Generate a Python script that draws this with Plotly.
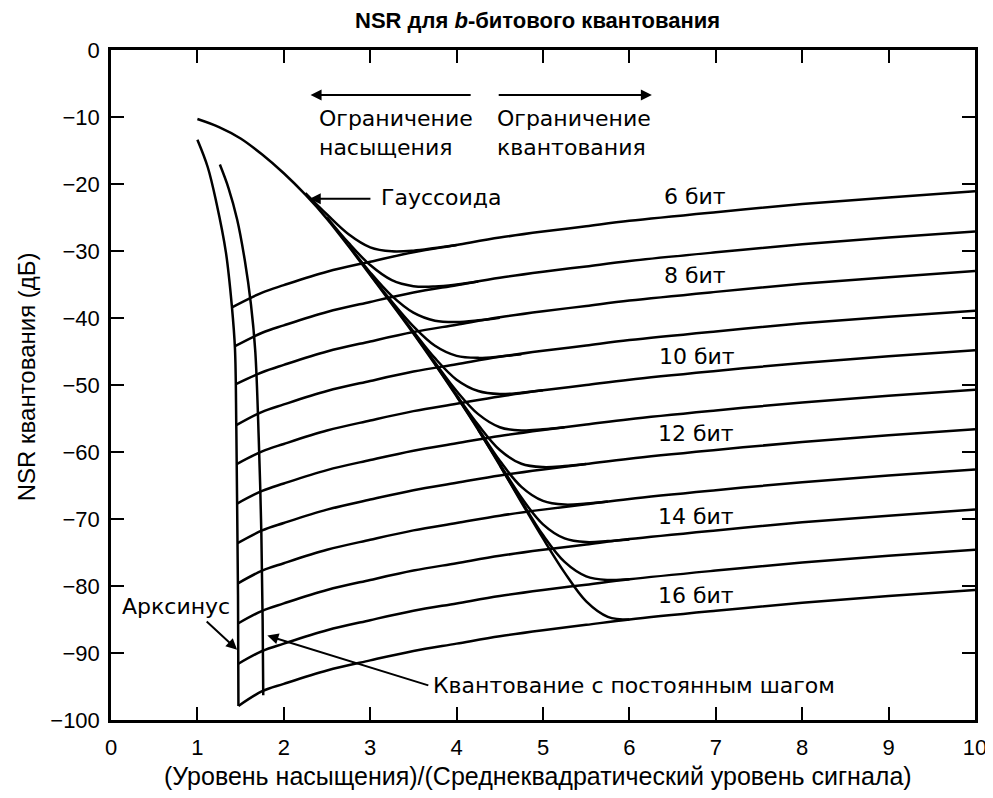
import plotly.graph_objects as go

# ---------------- data ----------------
bits = [6, 7, 8, 9, 10, 11, 12, 13, 14, 15, 16]

# quantization-limited lines (start on the arcsine curve, end at x = 10)
line_x_start = [1.40, 1.435, 1.44, 1.45, 1.455, 1.46, 1.465, 1.47, 1.47, 1.475, 1.475]
line_x_rest = [1.75, 2, 2.5, 3, 3.5, 4, 4.5, 5, 5.5, 6, 7, 8, 9, 10]
q6 = [-38.4, -36.2, -35.1, -33.1, -31.6, -30.2, -29.1, -28.0, -27.1, -26.3, -25.5, -24.2, -23.0, -22.0, -21.1]
q7 = [-44.2, -42.2, -41.1, -39.1, -37.6, -36.2, -35.1, -34.0, -33.1, -32.3, -31.5, -30.2, -29.0, -28.0, -27.1]
q8 = [-49.9, -48.1, -47.0, -45.0, -43.5, -42.1, -41.0, -39.9, -39.0, -38.2, -37.4, -36.1, -34.9, -33.9, -33.0]
q9 = [-56.0, -54.0, -52.9, -50.9, -49.4, -48.0, -46.9, -45.8, -44.9, -44.1, -43.3, -42.0, -40.8, -39.8, -38.9]
q10 = [-61.8, -59.9, -58.8, -56.8, -55.3, -53.9, -52.8, -51.7, -50.8, -50.0, -49.2, -47.9, -46.7, -45.7, -44.8]
q11 = [-67.7, -65.8, -64.7, -62.7, -61.2, -59.8, -58.7, -57.6, -56.7, -55.9, -55.1, -53.8, -52.6, -51.6, -50.7]
q12 = [-73.6, -71.7, -70.6, -68.6, -67.1, -65.7, -64.6, -63.5, -62.6, -61.8, -61.0, -59.7, -58.5, -57.5, -56.6]
q13 = [-79.6, -77.7, -76.6, -74.6, -73.1, -71.7, -70.6, -69.5, -68.6, -67.8, -67.0, -65.7, -64.5, -63.5, -62.6]
q14 = [-85.6, -83.7, -82.6, -80.6, -79.1, -77.7, -76.6, -75.5, -74.6, -73.8, -73.0, -71.7, -70.5, -69.5, -68.6]
q15 = [-91.6, -89.7, -88.6, -86.6, -85.1, -83.7, -82.6, -81.5, -80.6, -79.8, -79.0, -77.7, -76.5, -75.5, -74.6]
q16 = [-97.9, -95.7, -94.6, -92.6, -91.1, -89.7, -88.6, -87.5, -86.6, -85.8, -85.0, -83.7, -82.5, -81.5, -80.6]
quant_lines = [q6, q7, q8, q9, q10, q11, q12, q13, q14, q15, q16]

# Gaussian curve envelope (the 16-bit Gaussian curve)
gauss_x = [1.0, 1.25, 1.5, 1.75, 2.0, 2.25, 2.5, 2.75, 3.0, 3.25, 3.5, 3.75,
           4.0, 4.25, 4.5, 4.75, 5.0, 5.25, 5.5, 5.75, 6.0]
gauss_y = [-10.3, -11.5, -13.2, -15.6, -18.4, -21.6, -25.2, -29.3, -33.6, -37.9,
           -42.3, -46.9, -51.7, -56.7, -62.0, -67.5, -72.9, -78.0, -82.3, -84.6, -85.0]

# Gaussian knees for 6..15 bits (departure from the envelope into each line)
knee6_x = [2.25, 2.5, 2.75, 3.0, 3.25, 3.5, 3.75, 4.0]
knee6_y = [-21.35, -24.55, -27.5, -29.45, -30.05, -29.95, -29.55, -29.1]
knee7_x = [2.5, 2.75, 3.0, 3.25, 3.5, 3.75, 4.0, 4.25]
knee7_y = [-25.0, -28.8, -32.1, -34.35, -35.25, -35.3, -35.0, -34.55]
knee8_x = [2.75, 3.0, 3.25, 3.5, 3.75, 4.0, 4.25, 4.5]
knee8_y = [-29.15, -33.2, -36.7, -39.2, -40.4, -40.6, -40.35, -39.95]
knee9_x = [3.0, 3.25, 3.5, 3.75, 4.0, 4.25, 4.5, 4.75]
knee9_y = [-33.5, -37.55, -41.25, -44.15, -45.65, -45.95, -45.75, -45.4]
knee10_x = [3.25, 3.5, 3.75, 4.0, 4.25, 4.5, 4.75, 5.0]
knee10_y = [-37.8, -42.0, -46.0, -49.2, -50.9, -51.35, -51.15, -50.8]
knee11_x = [3.5, 3.75, 4.0, 4.25, 4.5, 4.75, 5.0, 5.25]
knee11_y = [-42.2, -46.65, -50.9, -54.35, -56.3, -56.8, -56.6, -56.3]
knee12_x = [3.75, 4.0, 4.25, 4.5, 4.75, 5.0, 5.25, 5.5]
knee12_y = [-46.85, -51.5, -55.95, -59.7, -61.75, -62.25, -62.1, -61.8]
knee13_x = [4.0, 4.25, 4.5, 4.75, 5.0, 5.25, 5.5, 5.75]
knee13_y = [-51.65, -56.5, -61.3, -65.2, -67.3, -67.85, -67.7, -67.4]
knee14_x = [4.25, 4.5, 4.75, 5.0, 5.25, 5.5, 5.75, 6.0]
knee14_y = [-56.65, -61.8, -66.8, -70.8, -72.9, -73.45, -73.3, -73.05]
knee15_x = [4.5, 4.75, 5.0, 5.25, 5.5, 5.75, 6.0]
knee15_y = [-61.95, -67.3, -72.4, -76.4, -78.55, -79.1, -79.0]
knees_x = [knee6_x, knee7_x, knee8_x, knee9_x, knee10_x, knee11_x, knee12_x, knee13_x, knee14_x, knee15_x]
knees_y = [knee6_y, knee7_y, knee8_y, knee9_y, knee10_y, knee11_y, knee12_y, knee13_y, knee14_y, knee15_y]

# arcsine and uniform (constant-step) saturation curves
arcsin_x = [1.0, 1.12, 1.22, 1.33, 1.40, 1.435, 1.45, 1.46, 1.47, 1.475]
arcsin_y = [-13.4, -17.5, -22.8, -30.2, -38.4, -44.6, -56.0, -68.0, -81.4, -97.9]
uniform_x = [1.26, 1.36, 1.46, 1.55, 1.62, 1.67, 1.71, 1.74, 1.755, 1.762]
uniform_y = [-17.1, -20.6, -25.3, -31.5, -38.0, -45.0, -58.0, -72.0, -85.0, -96.3]

label_bits = ["6 бит", "8 бит", "10 бит", "12 бит", "14 бит", "16 бит"]
label_bits_x = [6.76, 6.76, 6.78, 6.77, 6.77, 6.77]
label_bits_y = [-21.9, -33.6, -45.7, -57.3, -69.6, -81.4]

x_ticks = list(range(0, 11))
y_ticks = list(range(-100, 1, 10))

# ---------------- figure ----------------
FONT = "Liberation Sans, Arial, sans-serif"
ANN = "DejaVu Sans, Liberation Sans, sans-serif"
LW = 2.5
line_style = dict(color="black", width=LW, shape="spline", smoothing=1.0)

fig = go.Figure()

for xs0, q in zip(line_x_start, quant_lines):
    fig.add_trace(go.Scatter(x=[xs0] + line_x_rest, y=q, mode="lines",
                             line=line_style, hoverinfo="skip"))

fig.add_trace(go.Scatter(x=gauss_x, y=gauss_y, mode="lines", line=line_style, hoverinfo="skip"))
for kx, ky in zip(knees_x, knees_y):
    fig.add_trace(go.Scatter(x=kx, y=ky, mode="lines", line=line_style, hoverinfo="skip"))

fig.add_trace(go.Scatter(x=arcsin_x, y=arcsin_y, mode="lines", line=line_style, hoverinfo="skip"))
fig.add_trace(go.Scatter(x=uniform_x, y=uniform_y, mode="lines", line=line_style, hoverinfo="skip"))

ann = []
txt_font = dict(family=ANN, size=22, color="black")
arrow = dict(showarrow=True, arrowhead=2, arrowsize=1.1, arrowwidth=2, arrowcolor="black",
             xref="x", yref="y", axref="x", ayref="y", text="")

for t, x, y in zip(label_bits, label_bits_x, label_bits_y):
    ann.append(dict(x=x, y=y, xref="x", yref="y", text=t, showarrow=False, font=txt_font))

# arrows in the top area
ann.append(dict(x=2.31, y=-6.7, ax=4.18, ay=-6.7, **arrow))
ann.append(dict(x=6.26, y=-6.7, ax=4.47, ay=-6.7, **arrow))
ann.append(dict(x=2.38, y=-8.0, xref="x", yref="y", xanchor="left", yanchor="top", align="left",
                text="Ограничение<br>насыщения", showarrow=False, font=txt_font))
ann.append(dict(x=4.45, y=-8.0, xref="x", yref="y", xanchor="left", yanchor="top", align="left",
                text="Ограничение<br>квантования", showarrow=False, font=txt_font))

# Гауссоида
ann.append(dict(x=2.30, y=-22.2, ax=3.02, ay=-22.2, **arrow))
ann.append(dict(x=3.10, y=-22.0, xref="x", yref="y", xanchor="left", text="Гауссоида",
                showarrow=False, font=txt_font))

# Арксинус
ann.append(dict(x=1.46, y=-89.5, ax=1.09, ay=-85.1, **arrow))
ann.append(dict(x=0.75, y=-83.0, xref="x", yref="y", text="Арксинус", showarrow=False, font=txt_font))

# Квантование с постоянным шагом
ann.append(dict(x=1.81, y=-87.4, ax=3.69, ay=-94.9, **arrow))
ann.append(dict(x=3.70, y=-94.9, xref="x", yref="y", xanchor="left",
                text="Квантование с постоянным шагом", showarrow=False, font=txt_font))

# chart title and axis titles
ann.append(dict(x=0.494, y=1.0433, xref="paper", yref="paper", xanchor="center", yanchor="middle",
                showarrow=False,
                text="<b>NSR для <i>b</i>-битового квантования</b>",
                font=dict(family=FONT, size=22, color="black")))
ann.append(dict(x=0.494, y=-0.0836, xref="paper", yref="paper", xanchor="center", yanchor="middle",
                showarrow=False,
                text="(Уровень насыщения)/(Среднеквадратический уровень сигнала)",
                font=dict(family=FONT, size=25, color="black")))
ann.append(dict(x=-0.0984, y=0.513, xref="paper", yref="paper", xanchor="center", yanchor="middle",
                showarrow=False, textangle=-90,
                text="NSR квантования (дБ)",
                font=dict(family=FONT, size=24, color="black")))

# page body has an 8 px margin: figure is sized/offset so the plot box lands at
# x 111..975, y 50..720 of the 993x798 window
fig.update_layout(
    width=985, height=790,
    margin=dict(l=103, r=18, t=42, b=78),
    paper_bgcolor="white", plot_bgcolor="white",
    showlegend=False,
    font=dict(family=FONT, size=19, color="black"),
    annotations=ann,
)

fig.update_xaxes(range=[0, 10], tickvals=x_ticks, ticks="inside", ticklen=13, tickwidth=2,
                 tickcolor="black", showline=True, linewidth=2.5, linecolor="black",
                 mirror="ticks", showgrid=False, zeroline=False, automargin=False,
                 ticklabelstandoff=6,
                 tickfont=dict(family=FONT, size=22))
fig.update_yaxes(range=[-100, 0], tickvals=y_ticks, ticks="inside", ticklen=13, tickwidth=2,
                 tickcolor="black", showline=True, linewidth=2.5, linecolor="black",
                 mirror="ticks", showgrid=False, zeroline=False, automargin=False,
                 ticklabelstandoff=4,
                 tickfont=dict(family=FONT, size=22))

fig.write_html("out.html")
